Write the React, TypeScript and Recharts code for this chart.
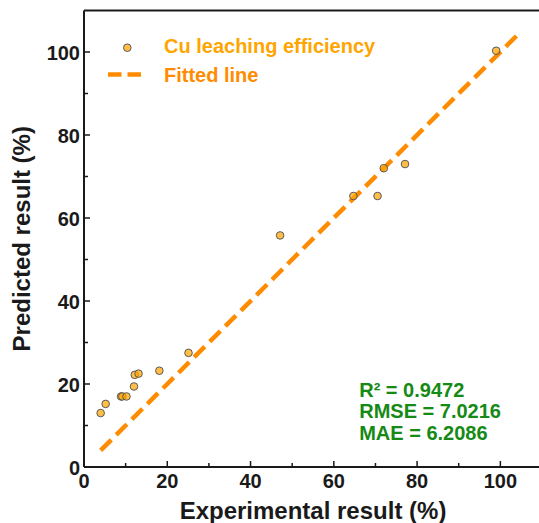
import React from "react";
import {
  ScatterChart,
  Scatter,
  XAxis,
  YAxis,
  ReferenceLine,
  Legend,
} from "recharts";

// experimental vs predicted Cu leaching efficiency (%)
const experimental = [4.0, 5.2, 8.9, 9.2, 10.2, 12.0, 12.2, 13.1, 18.1, 25.1, 47.1, 64.7, 70.5, 72.0, 77.1, 99.0];
const predicted = [13.0, 15.2, 17.0, 17.0, 17.0, 19.4, 22.2, 22.5, 23.2, 27.5, 55.8, 65.3, 65.3, 72.0, 73.0, 100.3];

// fitted line end points (x, y)
const fitX = [4, 104.6];
const fitY = [4, 104.6];

const axisTicks = [0, 10, 20, 30, 40, 50, 60, 70, 80, 90, 100];
const statLines = ["R\u00B2 = 0.9472", "RMSE = 7.0216", "MAE = 6.2086"];

const points = experimental.map((x, i) => ({ x, y: predicted[i] }));
const fitPoints = fitX.map((x, i) => ({ x, y: fitY[i] }));

const FONT = "'Liberation Sans', Arial, sans-serif";
const INK = "#1a1a1a";
const DOT_FILL = "rgba(255, 165, 0, 0.72)";
const DOT_EDGE = "#5a5a5a";
const LINE_ORANGE = "#FF8C00";

/* ── inward ticks, labels on majors only ── */
function XTick({ x, y, payload }: any) {
  const major = payload.value % 20 === 0;
  return (
    <g>
      <line x1={x} x2={x} y1={y} y2={y - (major ? 6 : 4)} stroke={INK} strokeWidth={1.5} />
      {major && (
        <text x={x} y={y + 21} textAnchor="middle" fill={INK} fontSize={20} fontWeight="bold" fontFamily={FONT}>
          {payload.value}
        </text>
      )}
    </g>
  );
}

function YTick({ x, y, payload }: any) {
  const major = payload.value % 20 === 0;
  return (
    <g>
      <line x1={x} x2={x + (major ? 6 : 4)} y1={y} y2={y} stroke={INK} strokeWidth={1.5} />
      {major && (
        <text x={x - 4} y={y + 7.5} textAnchor="end" fill={INK} fontSize={20} fontWeight="bold" fontFamily={FONT}>
          {payload.value}
        </text>
      )}
    </g>
  );
}

function Dot({ cx, cy }: any) {
  return <circle cx={cx} cy={cy} r={3.8} fill={DOT_FILL} stroke={DOT_EDGE} strokeWidth={1} />;
}

function NoDot() {
  return <g />;
}

function LegendBox() {
  return (
    <svg width={400} height={100} style={{ overflow: "visible" }}>
      <circle cx={127.3} cy={47.7} r={3.8} fill={DOT_FILL} stroke={DOT_EDGE} strokeWidth={1} />
      <text x={164} y={53.3} fill="#FFA500" fontSize={20} fontWeight="bold" fontFamily={FONT}>
        Cu leaching efficiency
      </text>
      <line x1={108} x2={141} y1={74.5} y2={74.5} stroke={LINE_ORANGE} strokeWidth={4.5} strokeDasharray="13.5 6" />
      <text x={164} y={81.7} fill={LINE_ORANGE} fontSize={20} fontWeight="bold" fontFamily={FONT}>
        Fitted line
      </text>
    </svg>
  );
}

export default function App() {
  return (
    <div style={{ position: "relative", width: 539, height: 523, overflow: "hidden", background: "#fff" }}>
      <style>{"body { margin: 0; }"}</style>
      <ScatterChart width={542} height={523} margin={{ top: 10.5, right: 0, bottom: 0, left: 0 }}>
        <XAxis
          type="number"
          dataKey="x"
          domain={[0, 110]}
          ticks={axisTicks}
          height={56}
          tickSize={0}
          tickMargin={0}
          tick={<XTick />}
          tickLine={false}
          axisLine={{ stroke: INK, strokeWidth: 2 }}
          allowDataOverflow
          label={{
            value: "Experimental result (%)",
            position: "insideBottom",
            offset: 4,
            fill: INK,
            style: { fontSize: 24, fontWeight: "bold", fontFamily: FONT },
          }}
        />
        <YAxis
          type="number"
          dataKey="y"
          domain={[0, 110]}
          ticks={axisTicks}
          width={84}
          tickSize={0}
          tickMargin={0}
          tick={<YTick />}
          tickLine={false}
          axisLine={{ stroke: INK, strokeWidth: 2 }}
          allowDataOverflow
          label={{
            value: "Predicted result (%)",
            angle: -90,
            position: "insideLeft",
            offset: 21,
            fill: INK,
            style: { fontSize: 24, fontWeight: "bold", fontFamily: FONT, textAnchor: "middle" },
          }}
        />
        <ReferenceLine y={110} stroke={INK} strokeWidth={2} />
        <Scatter
          name="Fitted line"
          data={fitPoints}
          line={{ stroke: LINE_ORANGE, strokeWidth: 4.5, strokeDasharray: "15 7" }}
          shape={<NoDot />}
          isAnimationActive={false}
        />
        <Scatter
          name="Cu leaching efficiency"
          data={points}
          shape={<Dot />}
          isAnimationActive={false}
        />
        <Legend
          layout="horizontal"
          verticalAlign="middle"
          align="center"
          wrapperStyle={{ left: 0, top: 0, width: 400, height: 100 }}
          content={() => <LegendBox />}
        />
      </ScatterChart>
      <svg width={539} height={523} style={{ position: "absolute", left: 0, top: 0, pointerEvents: "none" }}>
        {statLines.map((s, i) => (
          <text
            key={s}
            x={359.2}
            y={396.7 + i * 21.7}
            fill="#158a15"
            fontSize={20}
            fontWeight="bold"
            fontFamily={FONT}
          >
            {s}
          </text>
        ))}
      </svg>
    </div>
  );
}
